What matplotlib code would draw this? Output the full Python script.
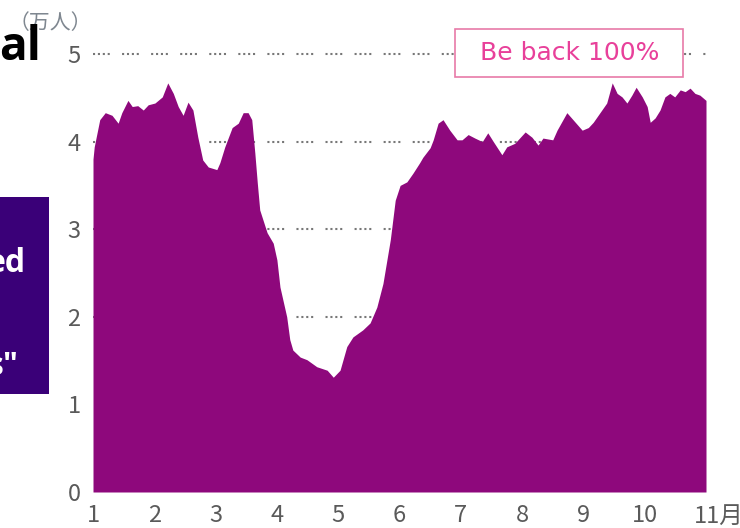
import matplotlib
matplotlib.use("Agg")
import matplotlib.pyplot as plt
from matplotlib.transforms import ScaledTranslation

plt.rcParams['font.family'] = ['Noto Sans CJK JP', 'DejaVu Sans']

# month position (1 = Jan) and visitors (10k people)
months = [1.00, 1.02, 1.11, 1.20, 1.31, 1.41, 1.47, 1.57, 1.64, 1.73, 1.82, 1.90,
          2.01, 2.13, 2.22, 2.31, 2.39, 2.47, 2.55, 2.63, 2.71, 2.79, 2.88,
          3.02, 3.07, 3.15, 3.27, 3.37, 3.45, 3.53, 3.59, 3.64, 3.68, 3.72,
          3.84, 3.94, 4.00, 4.05, 4.16, 4.21, 4.26, 4.38, 4.49, 4.65, 4.82,
          4.92, 5.03, 5.14, 5.24, 5.40, 5.52, 5.63, 5.73, 5.85, 5.93, 6.01,
          6.12, 6.22, 6.33, 6.38, 6.50, 6.55, 6.63, 6.71, 6.82, 6.94, 7.02,
          7.12, 7.23, 7.35, 7.44, 7.53, 7.67, 7.75, 7.88, 8.05, 8.16, 8.26,
          8.34, 8.50, 8.57, 8.73, 8.83, 8.98, 9.08, 9.16, 9.27, 9.38, 9.47,
          9.55, 9.63, 9.71, 9.79, 9.86, 9.96, 10.04, 10.09, 10.17, 10.25,
          10.33, 10.41, 10.49, 10.58, 10.66, 10.74, 10.82, 10.90, 11.00]
visitors = [3.80, 3.94, 4.25, 4.33, 4.30, 4.21, 4.33, 4.47, 4.40, 4.41, 4.36, 4.42,
            4.44, 4.51, 4.67, 4.55, 4.40, 4.30, 4.45, 4.36, 4.05, 3.79, 3.71,
            3.68, 3.76, 3.94, 4.16, 4.21, 4.33, 4.33, 4.25, 3.87, 3.53, 3.22,
            2.96, 2.84, 2.65, 2.34, 2.00, 1.74, 1.62, 1.54, 1.51, 1.43, 1.39,
            1.31, 1.39, 1.66, 1.77, 1.85, 1.93, 2.11, 2.38, 2.88, 3.33, 3.50,
            3.54, 3.64, 3.76, 3.82, 3.93, 4.02, 4.21, 4.25, 4.13, 4.02, 4.02,
            4.08, 4.04, 4.00, 4.10, 4.00, 3.85, 3.94, 3.98, 4.11, 4.05, 3.96,
            4.04, 4.02, 4.13, 4.33, 4.25, 4.13, 4.16, 4.22, 4.33, 4.44, 4.67,
            4.55, 4.51, 4.44, 4.53, 4.62, 4.51, 4.40, 4.22, 4.27, 4.36,
            4.51, 4.55, 4.51, 4.59, 4.57, 4.61, 4.55, 4.53, 4.47]

x_ticks = list(range(1, 12))
x_labels = ['1', '2', '3', '4', '5', '6', '7', '8', '9', '10', '11月']
y_ticks = [0, 1, 2, 3, 4, 5]
grid_levels = [2, 3, 4, 5]

fill_color = '#8e087c'
tick_color = '#5a5a5a'

fig = plt.figure(figsize=(7.4, 5.28), dpi=100)
ax = fig.add_axes([93 / 740, 36 / 528, 613 / 740, 464.3 / 528])

for lev in grid_levels:
    ax.axhline(lev, color='#777777', lw=1.5,
               linestyle=(0, (1, 1.35, 1, 1.35, 1, 1.35, 1, 5.9)), zorder=1)

ax.fill_between(months, visitors, 0, color=fill_color, lw=0, zorder=2)

ax.set_xlim(1, 11)
ax.set_ylim(0, 5.3)
for s in ax.spines.values():
    s.set_visible(False)

ax.set_xticks(x_ticks)
ax.set_xticklabels(x_labels)
ax.set_yticks(y_ticks)
ax.tick_params(length=0, labelsize=17, colors=tick_color)
ax.tick_params(axis='x', pad=9)
ax.tick_params(axis='y', pad=9)

last = ax.get_xticklabels()[-1]
last.set_horizontalalignment('left')
last.set_transform(last.get_transform() + ScaledTranslation(-12 / 100, 0, fig.dpi_scale_trans))

# unit label
fig.text(50 / 740, 1 - 23 / 528, '（万人）', fontsize=15, color='#7f8790',
         ha='center', va='center')

# callout box
ax.add_patch(plt.Rectangle((6.905, 4.737), 3.72, 0.548, fc='white',
                           ec='#e87aa8', lw=1.2, zorder=5))
ax.text(8.77, 5.01, 'Be back 100%', fontsize=18, color='#e8409a',
        family='DejaVu Sans', ha='center', va='center', zorder=6)

# cut-off title and side panel from the page
fig.text(41 / 740, 1 - 60 / 528, 'al', fontsize=33, fontweight='bold',
         family='Open Sans', color='black', ha='right', va='baseline')
fig.patches.append(plt.Rectangle((0, 1 - 394 / 528), 49 / 740, 197 / 528,
                                 transform=fig.transFigure, fc='#3a0078', ec='none'))
fig.text(26 / 740, 1 - 272 / 528, 'ed', fontsize=23, fontweight='bold',
         family='Open Sans', color='white', ha='right', va='baseline')
fig.text(19 / 740, 1 - 375 / 528, 's"', fontsize=23, fontweight='bold',
         family='Open Sans', color='white', ha='right', va='baseline')

fig.savefig('out.png', dpi=100)
